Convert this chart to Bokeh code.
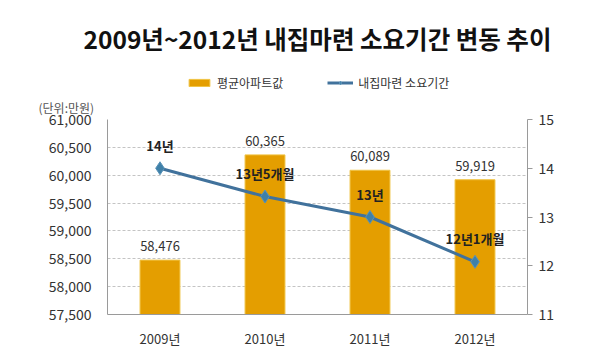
from bokeh.plotting import figure
from bokeh.layouts import column
from bokeh.models import (ColumnDataSource, Range1d, LinearAxis, Legend, LegendItem,
                          Title, FactorRange, NumeralTickFormatter, FixedTicker)
from bokeh.core.properties import value
from bokeh.embed import file_html
from bokeh.resources import INLINE

years = ["2009년", "2010년", "2011년", "2012년"]
prices = [58476, 60365, 60089, 59919]
price_labels = ["58,476", "60,365", "60,089", "59,919"]
periods = [14.0, 13.42, 13.0, 12.08]
period_labels = ["14년", "13년5개월", "13년", "12년1개월"]
left_ticks = [57500, 58000, 58500, 59000, 59500, 60000, 60500, 61000]
right_ticks = [11, 12, 13, 14, 15]
title_text = "2009년~2012년 내집마련 소요기간 변동 추이"
unit_text = "(단위:만원)"
series_names = ["평균아파트값", "내집마련 소요기간"]

FONT = "Noto Sans CJK KR"
BAR = "#E49E00"
LINE = "#41729C"
AXIS = "#9a9a9a"
TXT = "#333333"

HEAD_H = 91

# ---------- header (title + legend) ----------
h = figure(width=600, height=HEAD_H, x_range=Range1d(1, 2), y_range=Range1d(1, 2),
           output_backend="svg", toolbar_location=None,
           x_axis_type=None, y_axis_type=None,
           min_border_left=107, min_border_right=73,
           min_border_top=60, min_border_bottom=0, title=title_text)
h.grid.grid_line_color = None
h.outline_line_color = None
h.title.text_font = FONT
h.title.text_font_size = "24.5px"
h.title.text_font_style = "bold"
h.title.text_color = "#111111"
h.title.align = "center"
h.title.standoff = 10

# legend-only renderers, kept outside the header's visible ranges
swatch = ColumnDataSource(dict(x=[0], y=[0]))
lb = h.vbar(x="x", top="y", width=0.1, source=swatch, fill_color=BAR,
            line_color="#F0C445")
ll = h.line(x="x", y="y", source=swatch, line_color=LINE, line_width=3)
lp = h.scatter(x="x", y="y", source=swatch, marker="diamond", size=9,
               fill_color="#3F80A8", line_color="#5A93B8")
legend = Legend(items=[LegendItem(label=series_names[0], renderers=[lb]),
                       LegendItem(label=series_names[1], renderers=[ll, lp])],
                orientation="horizontal", location=(79, 0),
                label_text_font=FONT, label_text_font_size="12px",
                label_text_color=TXT, glyph_width=26, glyph_height=9,
                spacing=44, padding=0, margin=0,
                border_line_color=None, background_fill_alpha=0)
h.add_layout(legend, "center")

# ---------- main chart ----------
src = ColumnDataSource(dict(year=years, price=prices, plab=price_labels,
                            period=periods, llab=period_labels))

p = figure(width=600, height=353 - HEAD_H, x_range=FactorRange(*years),
           y_range=Range1d(57500, 61000), output_backend="svg",
           toolbar_location=None, min_border_left=107, min_border_right=73,
           min_border_top=28, min_border_bottom=39)
p.extra_y_ranges = {"right": Range1d(11, 15)}
p.outline_line_color = None

unit = Title(text=unit_text, text_font=FONT, text_font_size="12px",
             text_font_style="normal", text_color="#555555", align="left",
             offset=-69, standoff=7)
p.add_layout(unit, "above")

bars = p.vbar(x="year", top="price", bottom=57500, width=0.38, source=src,
              fill_color=BAR, line_color="#F0C445", line_width=1)
ln = p.line(x="year", y="period", source=src, y_range_name="right",
            line_color=LINE, line_width=3)
pts = p.scatter(x="year", y="period", source=src, y_range_name="right",
                marker="diamond", size=13, fill_color="#3F80A8", line_color="#5A93B8")

p.text(x="year", y="price", text="plab", source=src, y_offset=-14,
       text_align="center", text_baseline="middle", text_font=value(FONT),
       text_font_size="13px", text_color=TXT)
p.text(x="year", y="period", text="llab", source=src, y_range_name="right",
       y_offset=-23, text_align="center", text_baseline="middle",
       text_font=value(FONT), text_font_size="13px", text_font_style="bold",
       text_color="#222222")

ya = p.yaxis[0]
ya.ticker = FixedTicker(ticks=left_ticks)
ya.formatter = NumeralTickFormatter(format="0,0")
ya.major_tick_out = 0
ya.major_tick_in = 0
ya.minor_tick_out = 0
ya.minor_tick_in = 0
ya.major_label_standoff = 16
ya.axis_line_color = AXIS
ya.major_label_text_font = FONT
ya.major_label_text_font_size = "14px"
ya.major_label_text_color = TXT

ra = LinearAxis(y_range_name="right", ticker=FixedTicker(ticks=right_ticks))
ra.major_tick_out = 5
ra.major_tick_in = 0
ra.minor_tick_out = 0
ra.minor_tick_in = 0
ra.major_tick_line_color = AXIS
ra.major_label_standoff = 6
ra.axis_line_color = AXIS
ra.major_label_text_font = FONT
ra.major_label_text_font_size = "14px"
ra.major_label_text_color = TXT
p.add_layout(ra, "right")

xa = p.xaxis[0]
xa.major_tick_out = 0
xa.major_tick_in = 0
xa.axis_line_color = AXIS
xa.major_label_standoff = 14
xa.major_label_text_font = FONT
xa.major_label_text_font_size = "13px"
xa.major_label_text_color = TXT

p.xgrid.grid_line_color = None
p.ygrid.ticker = FixedTicker(ticks=left_ticks)
p.ygrid.grid_line_color = "#c4c4c4"
p.ygrid.grid_line_dash = "3 2"

layout = column(h, p, spacing=0)
open("out.html", "w").write(file_html(layout, INLINE))
